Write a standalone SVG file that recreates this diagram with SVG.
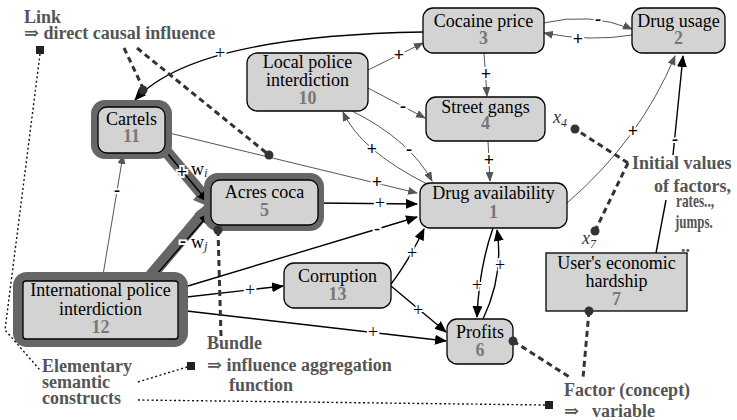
<svg xmlns="http://www.w3.org/2000/svg" width="737" height="420" viewBox="0 0 737 420" font-family="'Liberation Serif', 'Times New Roman', 'DejaVu Serif', serif">
<defs>
<marker id="ab" markerUnits="userSpaceOnUse" markerWidth="12" markerHeight="10" refX="11" refY="5" orient="auto"><path d="M0,0 L12,5 L0,10 z" fill="#000"/></marker>
<marker id="ag" markerUnits="userSpaceOnUse" markerWidth="10" markerHeight="8" refX="9" refY="4" orient="auto"><path d="M0,0 L10,4 L0,8 z" fill="#555"/></marker>
<style>
text{font-family:'Liberation Serif','Times New Roman','DejaVu Serif',serif}
.nd{fill:#d3d3d3;stroke:#000;stroke-width:1.3}
.band{fill:#666}
.t{font-size:18px;fill:#000;text-anchor:middle}
.n{font-size:18px;font-weight:bold;fill:#777;text-anchor:middle}
.ann{font-size:18px;font-weight:bold;fill:#555}
.cb{fill:none;stroke:#000;stroke-width:1.4;marker-end:url(#ab)}
.cbn{fill:none;stroke:#000;stroke-width:1.4}
.cg{fill:none;stroke:#555;stroke-width:1;marker-end:url(#ag)}
.lr{font-size:18px;fill:#000;text-anchor:middle;stroke:#fff;stroke-width:4;paint-order:stroke}
.lb{font-size:18px;font-weight:bold;fill:#000;text-anchor:middle;stroke:#fff;stroke-width:4;paint-order:stroke}
.dash{fill:none;stroke:#333;stroke-width:3;stroke-dasharray:6 4}
.dot{fill:none;stroke:#111;stroke-width:1.4;stroke-dasharray:2 2.5}
.pt{fill:#333}
.it{font-style:italic;fill:#333}
.w{fill:#000}
</style>
</defs>

<g id="bands">
<line x1="160" y1="144" x2="203" y2="195" stroke="#666" stroke-width="12"/>
<line x1="148" y1="279" x2="203" y2="214" stroke="#666" stroke-width="12"/>
<polygon class="band" points="205,186 193,200 205,205 194,214 205,219"/>
</g>

<g id="connectors">
<path class="cb" d="M423,32 C300,34 180,50 135,100"/>
<path class="cb" d="M318,203 L417,204"/>
<path class="cb" d="M178,289 L417,217"/>
<path class="cb" d="M178,298 L283,286"/>
<path class="cb" d="M178,310 L446,341"/>
<path class="cb" d="M391,284 Q408,262 424,229"/>
<path class="cb" d="M391,286 L446,332"/>
<path class="cb" d="M493,228 Q479,268 477,317"/>
<path class="cb" d="M483,319 Q504,275 497,230"/>
<path class="cbn" d="M656,253 L666,200"/>
<path class="cb" d="M673,155 L683,56"/>
<path class="cb" d="M163,148 L208,202"/>
<path class="cb" d="M150,282 L210,213"/>
<path class="cg" d="M102,281 L123,155"/>
<path class="cg" d="M165,132 L417,193"/>
<path class="cg" d="M368,70 L423,43"/>
<path class="cg" d="M368,88 L425,118"/>
<path class="cg" d="M484,53 L487,96"/>
<path class="cg" d="M488,141 L490,181"/>
<path class="cg" d="M352,111 Q410,140 432,181"/>
<path class="cg" d="M427,184 Q360,150 343,112"/>
<path class="cg" d="M543,23 Q590,12 632,29"/>
<path class="cg" d="M632,35 Q590,42 544,33"/>
<path class="cg" d="M567,203 Q640,140 675,56"/>
</g>

<g id="n11">
<rect class="band" x="91" y="100" width="81" height="59" rx="14"/>
<rect class="nd" x="98" y="107" width="67" height="46" rx="9"/>
<text class="t" x="131.5" y="125">Cartels</text>
<text class="n" x="131.5" y="142">11</text>
</g>
<g id="n5">
<rect class="band" x="204" y="173" width="120" height="58" rx="14"/>
<rect class="nd" x="211" y="180" width="107" height="45" rx="9"/>
<text class="t" x="264.5" y="198">Acres coca</text>
<text class="n" x="264.5" y="216">5</text>
</g>
<g id="n12">
<rect class="band" x="13" y="272" width="175" height="75" rx="14"/>
<rect class="nd" x="23" y="281" width="155" height="58" rx="3"/>
<text class="t" x="100.5" y="296">International police</text>
<text class="t" x="100.5" y="315">interdiction</text>
<text class="n" x="100.5" y="333">12</text>
</g>
<g id="n3">
<rect class="nd" x="423" y="8" width="121" height="45" rx="10"/>
<text class="t" x="483.5" y="27">Cocaine price</text>
<text class="n" x="483.5" y="44">3</text>
</g>
<g id="n2">
<rect class="nd" x="632" y="8" width="93" height="45" rx="10"/>
<text class="t" x="678.5" y="27">Drug usage</text>
<text class="n" x="678.5" y="44">2</text>
</g>
<g id="n10">
<rect class="nd" x="247" y="53" width="121" height="58" rx="10"/>
<text class="t" x="307.5" y="68">Local police</text>
<text class="t" x="307.5" y="86">interdiction</text>
<text class="n" x="307.5" y="104">10</text>
</g>
<g id="n4">
<rect class="nd" x="426" y="97" width="119" height="44" rx="10"/>
<text class="t" x="485.5" y="113">Street gangs</text>
<text class="n" x="485.5" y="129">4</text>
</g>
<g id="n1">
<rect class="nd" x="420" y="183" width="147" height="45" rx="10"/>
<text class="t" x="493.5" y="199">Drug availability</text>
<text class="n" x="493.5" y="218">1</text>
</g>
<g id="n13">
<rect class="nd" x="284" y="263" width="107" height="45" rx="10"/>
<text class="t" x="337.5" y="282">Corruption</text>
<text class="n" x="337.5" y="300">13</text>
</g>
<g id="n6">
<rect class="nd" x="447" y="319" width="66" height="45" rx="10"/>
<text class="t" x="480" y="338">Profits</text>
<text class="n" x="480" y="356">6</text>
</g>
<text class="ann" x="681" y="252">..</text>
<g id="n7">
<rect class="nd" x="546" y="253" width="141" height="58"/>
<text class="t" x="616.5" y="269">User's economic</text>
<text class="t" x="616.5" y="287">hardship</text>
<text class="n" x="616.5" y="305">7</text>
</g>

<g id="labels">
<text class="lr" x="220" y="59">+</text>
<text class="lr" x="380" y="209">+</text>
<text class="lr" x="377" y="234">-</text>
<text class="lr" x="250" y="296">+</text>
<text class="lr" x="373" y="338">+</text>
<text class="lr" x="412" y="259">+</text>
<text class="lr" x="418" y="316">+</text>
<text class="lr" x="477" y="291">+</text>
<text class="lr" x="500" y="271">+</text>
<text class="lb" x="675" y="145">-</text>
<text class="lb" x="182" y="178">+</text>
<text class="lb" x="183" y="247">-</text>
<text class="lb" x="117" y="196">-</text>
<text class="lb" x="377" y="188">+</text>
<text class="lb" x="399" y="61">+</text>
<text class="lb" x="403" y="112">-</text>
<text class="lb" x="486" y="80">+</text>
<text class="lb" x="489" y="166">+</text>
<text class="lb" x="409" y="155">-</text>
<text class="lb" x="372" y="155">+</text>
<text class="lb" x="598" y="25">-</text>
<text class="lb" x="578" y="45">+</text>
<text class="lb" x="633" y="137">+</text>
<text class="w" x="191" y="175" font-size="18">w<tspan class="it" font-size="13" dy="2">i</tspan></text>
<text class="w" x="191" y="248" font-size="18">w<tspan class="it" font-size="13" dy="2">j</tspan></text>
</g>

<g id="annotations">
<path class="dash" d="M124,48 L143,88"/>
<circle class="pt" cx="143" cy="90" r="4.5"/>
<path class="dash" d="M137,48 L269,155"/>
<circle class="pt" cx="269" cy="155" r="4.5"/>
<path class="dash" d="M628,163 L575,129"/>
<circle class="pt" cx="575" cy="129" r="4.5"/>
<path class="dash" d="M628,163 L595,231"/>
<circle class="pt" cx="595" cy="231" r="4.5"/>
<path class="dash" d="M218,230 L221,336"/>
<circle class="pt" cx="218" cy="230" r="4.5"/>
<path class="dash" d="M513,341 L571,378"/>
<circle class="pt" cx="513" cy="341" r="4.5"/>
<path class="dash" d="M589,311 L583,378"/>
<circle class="pt" cx="589" cy="311" r="4.5"/>
<path class="dot" d="M40,54 L5,330 L40,370"/>
<path class="dot" d="M138,382 L187,367"/>
<path class="dot" d="M138,400 L545,405"/>
<rect x="36" y="46" width="8" height="8" fill="#222"/>
<rect x="187" y="362" width="8" height="8" fill="#222"/>
<rect x="545" y="401" width="8" height="8" fill="#222"/>
<text class="it" x="553" y="123" font-size="18">x<tspan font-size="12" dy="4">4</tspan></text>
<text class="it" x="582" y="244" font-size="18">x<tspan font-size="12" dy="4">7</tspan></text>
<text class="ann" x="24" y="23">Link</text>
<text class="ann" x="24" y="39">⇒ direct causal influence</text>
<text class="ann" x="632" y="169">Initial values</text>
<text class="ann" x="654" y="192">of factors,</text>
<text class="ann" transform="translate(676,207) scale(0.74,1)">rates..,</text>
<text class="ann" transform="translate(675,228) scale(0.72,1)">jumps.</text>
<text class="ann" x="207" y="349">Bundle</text>
<text class="ann" x="207" y="371">⇒ influence aggregation</text>
<text class="ann" x="229" y="391">function</text>
<text class="ann" x="42" y="372">Elementary</text>
<text class="ann" x="42" y="388">semantic</text>
<text class="ann" x="42" y="404">constructs</text>
<text class="ann" x="564" y="396">Factor (concept)</text>
<text class="ann" x="564" y="417">⇒</text>
<text class="ann" x="592" y="417">variable</text>
</g>
</svg>
